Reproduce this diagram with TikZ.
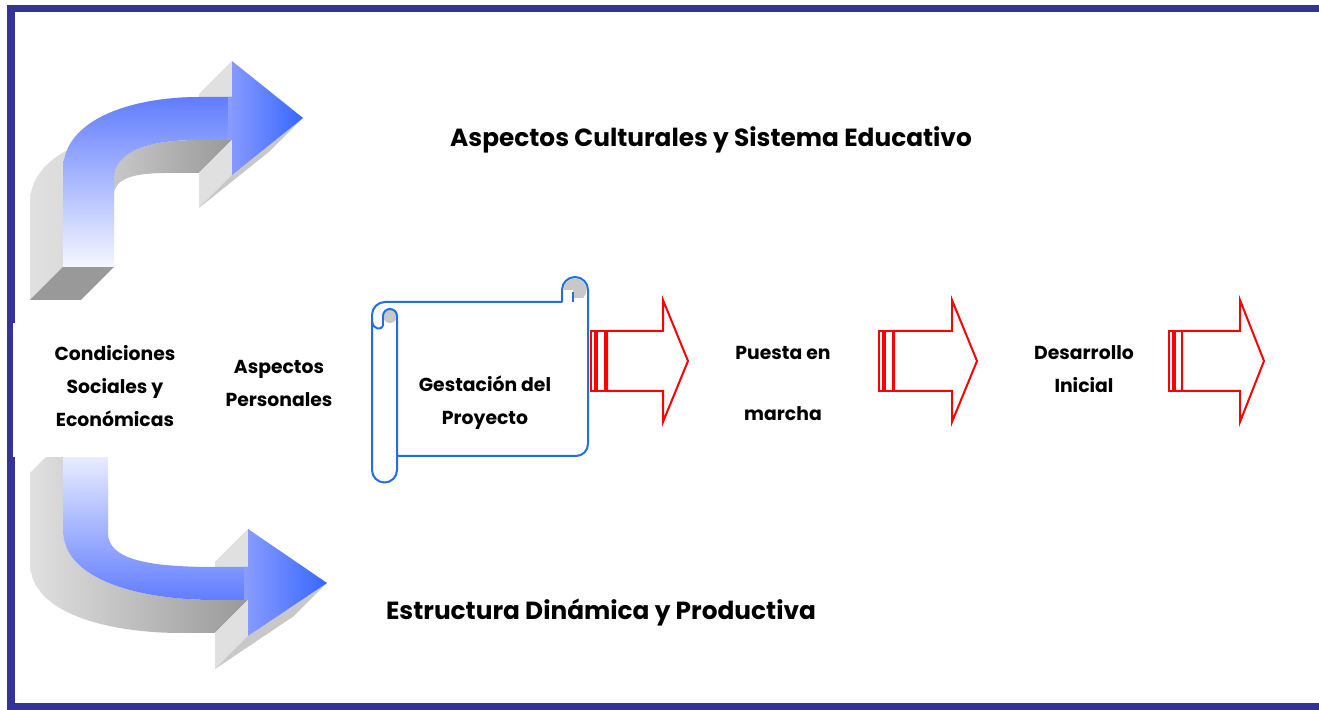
\documentclass[tikz,border=0pt]{standalone}
\usepackage{fontspec}
\setmainfont{Poppins}
\definecolor{frameblue}{HTML}{333399}
\definecolor{lgray}{HTML}{E0E0E0}
\definecolor{dgray}{HTML}{999999}
\definecolor{sgray}{HTML}{C8C8C8}
\definecolor{bstrong}{HTML}{3366FF}
\definecolor{bmid}{HTML}{8A9CFF}
\definecolor{btop}{HTML}{5F7BFF}
\definecolor{bpale}{HTML}{B8C4FF}
\definecolor{bwhite}{HTML}{F8F9FF}
\definecolor{scrollblue}{HTML}{1E6FE8}
\definecolor{curlgray}{HTML}{C8C8C8}
\tikzset{
  bigtext/.style={font=\bfseries\fontsize{12.4}{14}\selectfont, inner sep=0pt},
  smalltext/.style={font=\bfseries\fontsize{9.4}{16.5}\selectfont, align=center, inner sep=0pt},
  redarrow/.style={draw=red, line width=1pt, fill=white, line join=miter},
  scrollline/.style={draw=scrollblue, line width=1pt},
}
\begin{document}
\begin{tikzpicture}[x=0.5pt,y=-0.5pt]
\useasboundingbox (0,0) rectangle (1319,710);
% frame
\fill[frameblue] (7,5) rectangle (1319,12);
\fill[frameblue] (7,5) rectangle (15,710);
\fill[frameblue] (7,703) rectangle (1319,710);

% ===== upper curved arrow =====
\shade[left color=lgray, right color=lgray!90!black]
  (63,267) -- (63,170) .. controls (63,120) and (130,97) .. (200,97) -- (167,130)
  .. controls (97,130) and (30,153) .. (30,203) -- (30,300) -- cycle;
\fill[dgray] (63,267) -- (114,267) -- (81,300) -- (30,300) -- cycle;
\shade[left color=black!22, right color=dgray]
  (114,180) .. controls (114,150) and (150,140) .. (200,140) -- (232,140) -- (199,173)
  -- (167,173) .. controls (135,173) and (114,178) .. (114,195) -- cycle;
\fill[lgray] (232,61) -- (232,97) -- (199,130) -- (199,94) -- cycle;
\fill[lgray] (232,140) -- (232,175) -- (199,208) -- (199,173) -- cycle;
\fill[sgray] (232,175) -- (303,118) -- (270,151) -- (199,208) -- cycle;
\begin{scope}
\clip (63,267) -- (63,170) .. controls (63,120) and (130,97) .. (200,97) -- (232,97)
  -- (232,61) -- (303,118) -- (232,175) -- (232,140) -- (200,140)
  .. controls (150,140) and (114,150) .. (114,180) -- (114,267) -- cycle;
\shade[top color=btop, middle color=bpale, bottom color=bwhite] (60,95) rectangle (240,270);
\shade[left color=bmid, right color=bstrong] (228,55) rectangle (305,180);
\end{scope}

% ===== lower curved arrow =====
\shade[left color=lgray, right color=dgray]
  (63,440) -- (63,530) .. controls (63,580) and (140,600) .. (215,600) -- (248,600)
  -- (215,633) -- (182,633) .. controls (107,633) and (30,613) .. (30,563)
  -- (30,473) -- cycle;
\fill[lgray] (248,529) -- (248,567) -- (215,600) -- (215,562) -- cycle;
\fill[lgray] (248,600) -- (248,636) -- (215,669) -- (215,633) -- cycle;
\fill[sgray] (248,636) -- (327,583) -- (294,616) -- (215,669) -- cycle;
\begin{scope}
\clip (63,440) -- (63,530) .. controls (63,580) and (140,600) .. (215,600) -- (248,600)
  -- (248,636) -- (327,583) -- (248,529) -- (248,567) -- (215,567)
  .. controls (150,567) and (108,560) .. (108,533) -- (108,440) -- cycle;
\shade[top color=bwhite, middle color=bpale, bottom color=btop] (60,440) rectangle (250,602);
\shade[left color=bmid, right color=bstrong] (244,525) rectangle (330,640);
\end{scope}

% white panel behind the left labels
\fill[white] (13,323) rectangle (200,457);

% ===== scroll =====
\fill[white] (397,456) -- (576,456) arc[start angle=90, end angle=0, radius=12]
  -- (588,290) arc[start angle=0, end angle=-180, radius=13] -- (562,302)
  -- (385,302) arc[start angle=-90, end angle=-180, radius=13]
  -- (372,470) arc[start angle=180, end angle=0, radius=12.5] -- cycle;
\begin{scope}
\clip (560,275) rectangle (590,298);
\fill[curlgray] (575,290) circle (11.5);
\end{scope}
\fill[white] (562,290) rectangle (573,302);
\draw[scrollline] (573,302) -- (573,292);
\fill[curlgray] (390,316) circle (7);
\draw[scrollline] (383,316) -- (383,326);
\draw[scrollline] (383,316) arc[start angle=180, end angle=360, radius=7];
\draw[scrollline, line join=round] (397,456) -- (576,456) arc[start angle=90, end angle=0, radius=12]
  -- (588,290) arc[start angle=0, end angle=-180, radius=13] -- (562,302)
  -- (385,302) arc[start angle=-90, end angle=-180, radius=13]
  -- (372,470) arc[start angle=180, end angle=0, radius=12.5] -- (397,316);
\draw[scrollline] (372,322) .. controls (374,330) and (381,330) .. (383,326);

% ===== red arrows =====
\foreach \s/\b/\h/\t [count=\i] in {591/607/663/688, 879/894/952/977, 1169/1182/1240/1264}{
  \draw[redarrow] (\s,331) rectangle (\s+4,391);
  \draw[redarrow] (\s+6,331) rectangle (\s+14,391);
  \draw[redarrow] (\b,331) -- (\h,331) -- (\h,300) -- (\t,361) -- (\h,422) -- (\h,391) -- (\b,391) -- cycle;
}

% ===== texts =====
\node[bigtext] (cult) at (711,140) {Aspectos Culturales y Sistema Educativo};
\node[bigtext] (estr) at (601,612) {Estructura Dinámica y Productiva};
\node[smalltext] (cond) at (115,386) {Condiciones\\Sociales y\\Económicas};
\node[smalltext] (pers) at (279,383) {Aspectos\\Personales};
\node[smalltext] (gest) at (485,403) {Gestación del\\Proyecto};
\node[smalltext, font=\bfseries\fontsize{9.4}{30.5}\selectfont] (pues) at (783,383) {Puesta en\\marcha};
\node[smalltext] (desa) at (1084,369) {Desarrollo\\Inicial};
\end{tikzpicture}
\end{document}
